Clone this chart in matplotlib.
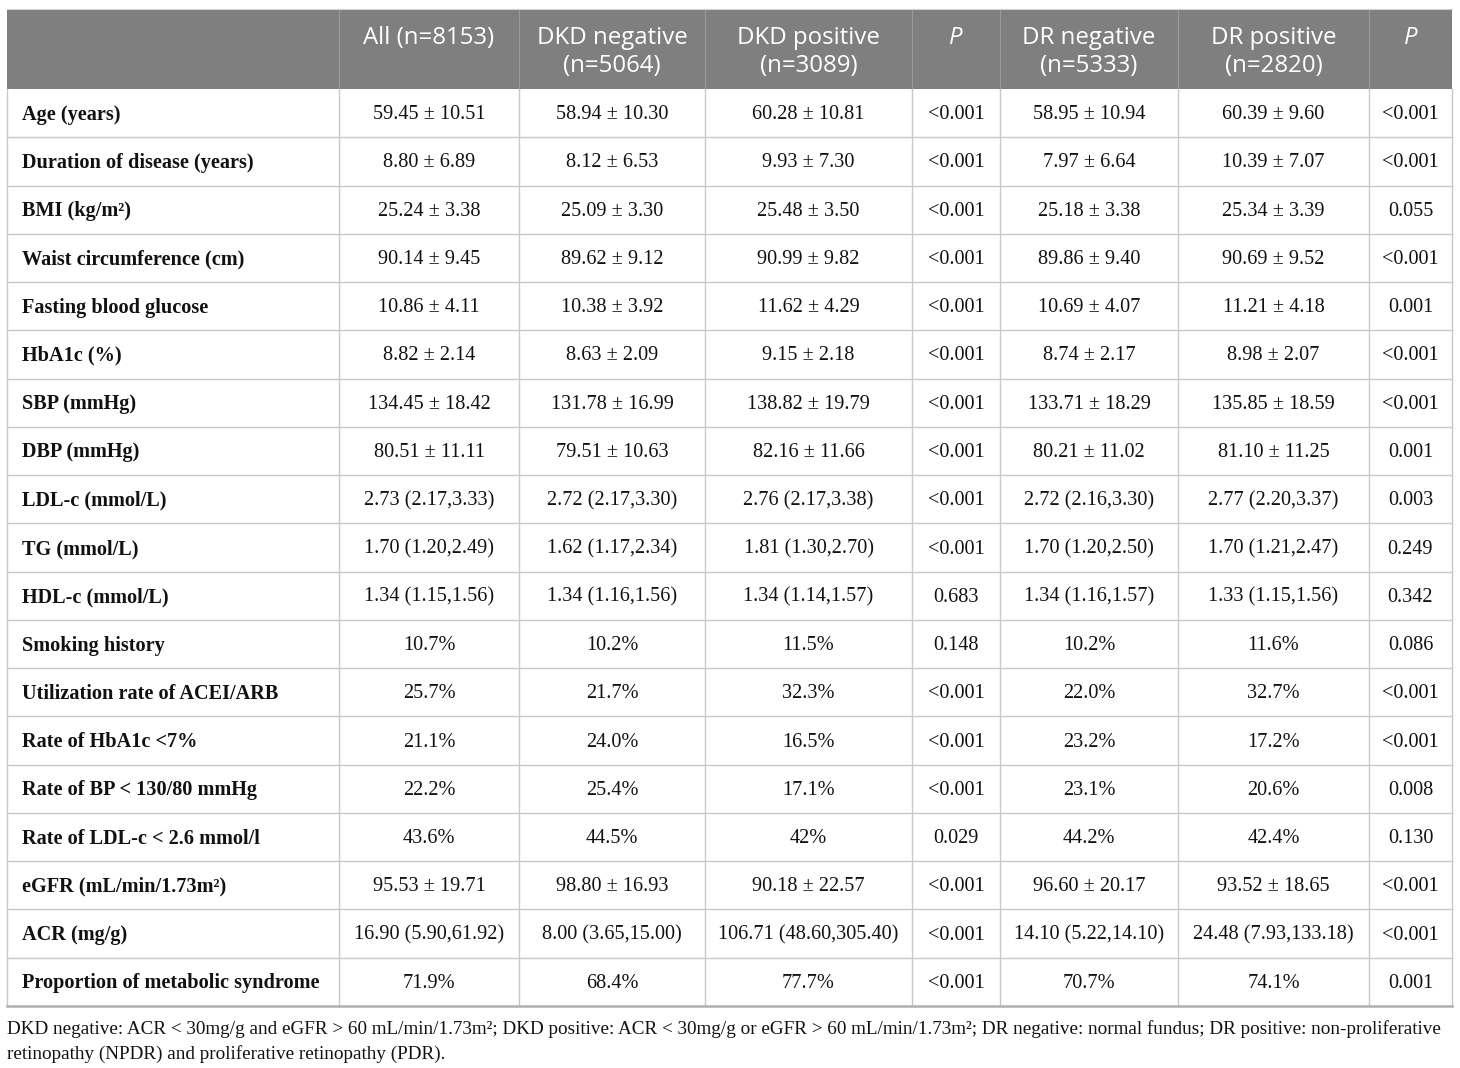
import matplotlib
matplotlib.use("Agg")
import matplotlib.pyplot as plt
from matplotlib.patches import Rectangle

headers = ["", "All (n=8153)", "DKD negative\n(n=5064)", "DKD positive\n(n=3089)", "P",
           "DR negative\n(n=5333)", "DR positive\n(n=2820)", "P"]

labels = ["Age (years)", "Duration of disease (years)", "BMI (kg/m\u00b2)", "Waist circumference (cm)",
          "Fasting blood glucose", "HbA1c (%)", "SBP (mmHg)", "DBP (mmHg)", "LDL-c (mmol/L)",
          "TG (mmol/L)", "HDL-c (mmol/L)", "Smoking history", "Utilization rate of ACEI/ARB",
          "Rate of HbA1c <7%", "Rate of BP < 130/80 mmHg", "Rate of LDL-c < 2.6 mmol/l",
          "eGFR (mL/min/1.73m\u00b2)", "ACR (mg/g)", "Proportion of metabolic syndrome"]

all_col = ["59.45 ± 10.51", "8.80 ± 6.89", "25.24 ± 3.38", "90.14 ± 9.45", "10.86 ± 4.11",
           "8.82 ± 2.14", "134.45 ± 18.42", "80.51 ± 11.11", "2.73 (2.17,3.33)", "1.70 (1.20,2.49)",
           "1.34 (1.15,1.56)", "10.7%", "25.7%", "21.1%", "22.2%", "43.6%", "95.53 ± 19.71",
           "16.90 (5.90,61.92)", "71.9%"]
dkd_neg = ["58.94 ± 10.30", "8.12 ± 6.53", "25.09 ± 3.30", "89.62 ± 9.12", "10.38 ± 3.92",
           "8.63 ± 2.09", "131.78 ± 16.99", "79.51 ± 10.63", "2.72 (2.17,3.30)", "1.62 (1.17,2.34)",
           "1.34 (1.16,1.56)", "10.2%", "21.7%", "24.0%", "25.4%", "44.5%", "98.80 ± 16.93",
           "8.00 (3.65,15.00)", "68.4%"]
dkd_pos = ["60.28 ± 10.81", "9.93 ± 7.30", "25.48 ± 3.50", "90.99 ± 9.82", "11.62 ± 4.29",
           "9.15 ± 2.18", "138.82 ± 19.79", "82.16 ± 11.66", "2.76 (2.17,3.38)", "1.81 (1.30,2.70)",
           "1.34 (1.14,1.57)", "11.5%", "32.3%", "16.5%", "17.1%", "42%", "90.18 ± 22.57",
           "106.71 (48.60,305.40)", "77.7%"]
p_dkd = ["<0.001", "<0.001", "<0.001", "<0.001", "<0.001", "<0.001", "<0.001", "<0.001", "<0.001",
         "<0.001", "0.683", "0.148", "<0.001", "<0.001", "<0.001", "0.029", "<0.001", "<0.001", "<0.001"]
dr_neg = ["58.95 ± 10.94", "7.97 ± 6.64", "25.18 ± 3.38", "89.86 ± 9.40", "10.69 ± 4.07",
          "8.74 ± 2.17", "133.71 ± 18.29", "80.21 ± 11.02", "2.72 (2.16,3.30)", "1.70 (1.20,2.50)",
          "1.34 (1.16,1.57)", "10.2%", "22.0%", "23.2%", "23.1%", "44.2%", "96.60 ± 20.17",
          "14.10 (5.22,14.10)", "70.7%"]
dr_pos = ["60.39 ± 9.60", "10.39 ± 7.07", "25.34 ± 3.39", "90.69 ± 9.52", "11.21 ± 4.18",
          "8.98 ± 2.07", "135.85 ± 18.59", "81.10 ± 11.25", "2.77 (2.20,3.37)", "1.70 (1.21,2.47)",
          "1.33 (1.15,1.56)", "11.6%", "32.7%", "17.2%", "20.6%", "42.4%", "93.52 ± 18.65",
          "24.48 (7.93,133.18)", "74.1%"]
p_dr = ["<0.001", "<0.001", "0.055", "<0.001", "0.001", "<0.001", "<0.001", "0.001", "0.003",
        "0.249", "0.342", "0.086", "<0.001", "<0.001", "0.008", "0.130", "<0.001", "<0.001", "0.001"]

footnote = ["DKD negative: ACR < 30mg/g and eGFR > 60 mL/min/1.73m\u00b2; DKD positive: ACR < 30mg/g or "
            "eGFR > 60 mL/min/1.73m\u00b2; DR negative: normal fundus; DR positive: non-proliferative",
            "retinopathy (NPDR) and proliferative retinopathy (PDR)."]

columns = [all_col, dkd_neg, dkd_pos, p_dkd, dr_neg, dr_pos, p_dr]

# layout in pixels
W, H = 1460, 1068
col_x = [7, 339, 519, 705, 912, 1000, 1178, 1369, 1452]
top, head_bot, bottom = 9, 89, 1006
row_h = (bottom - head_bot) / len(labels)
grid_c = "#c8c8c8"
serif = ["Liberation Serif", "DejaVu Serif"]
sans = ["Open Sans", "DejaVu Sans"]

fig = plt.figure(figsize=(W / 100, H / 100), dpi=100)
ax = fig.add_axes([0, 0, 1, 1])
ax.set_xlim(0, W)
ax.set_ylim(H, 0)
ax.axis("off")

# header
ax.add_patch(Rectangle((col_x[0], top), col_x[-1] - col_x[0], head_bot - top,
                       facecolor="#7f7f7f", edgecolor="none"))
for j, h in enumerate(headers):
    if not h:
        continue
    cx = (col_x[j] + col_x[j + 1]) / 2
    style = "italic" if h == "P" else "normal"
    ax.text(cx, 26, h, ha="center", va="top", color="white", fontsize=17.3,
            family=sans, fontstyle=style, linespacing=1.22)
for x in col_x[1:-1]:
    ax.plot([x, x], [top, head_bot], color="#9a9a9a", lw=0.8)

# body rows
for i, lab in enumerate(labels):
    yc = head_bot + row_h * (i + 0.5) + 1.5
    ax.text(22, yc, lab, ha="left", va="center", fontsize=14.6, family=serif,
            fontweight="bold", color="#111111")
    for j, col in enumerate(columns):
        cx = (col_x[j + 1] + col_x[j + 2]) / 2
        ax.text(cx, yc, col[i], ha="center", va="center", fontsize=14.6,
                family=serif, color="#111111")

# grid lines
for i in range(1, len(labels)):
    y = head_bot + row_h * i
    ax.plot([col_x[0], col_x[-1]], [y, y], color=grid_c, lw=1.0)
for x in col_x:
    ax.plot([x, x], [head_bot, bottom], color=grid_c, lw=1.0)
ax.plot([col_x[0], col_x[-1]], [bottom, bottom], color="#b0b0b0", lw=1.8)
ax.plot([col_x[0], col_x[-1]], [top, top], color="#d0d0d0", lw=0.8)

# footnote
ax.text(7, 1029, footnote[0], ha="left", va="center", fontsize=13.8, family=serif, color="#111111")
ax.text(7, 1054, footnote[1], ha="left", va="center", fontsize=13.8, family=serif, color="#111111")

fig.savefig("out.png", dpi=100)
